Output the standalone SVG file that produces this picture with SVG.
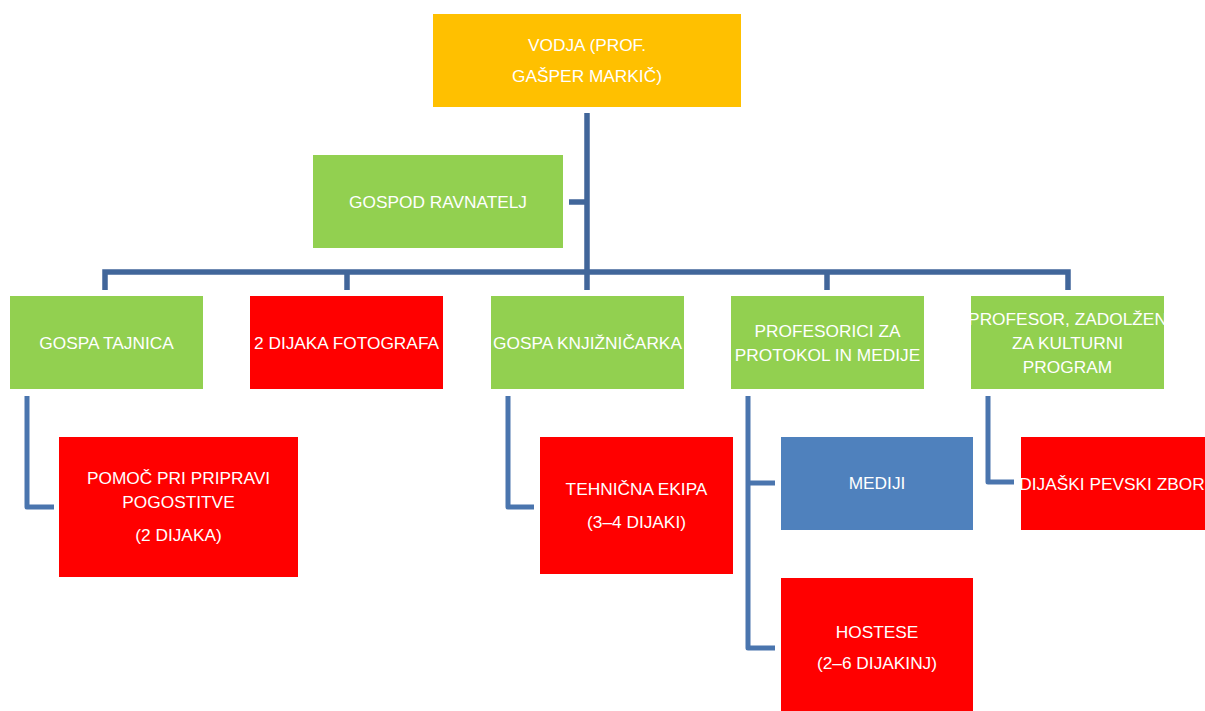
<svg xmlns="http://www.w3.org/2000/svg" width="1205" height="711" viewBox="0 0 1205 711">
<style>
.t{font-family:"Liberation Sans",Arial,sans-serif;font-size:17.3px;fill:#ffffff;text-anchor:middle}
.o{fill:#FFC000}.g{fill:#92D050}.r{fill:#FF0000}.b{fill:#4F81BD}
.c1{fill:none;stroke:#41669A;stroke-width:5.5}
.c2{fill:none;stroke:#4A75AE;stroke-width:5;stroke-linejoin:round}
</style>
<rect width="1205" height="711" fill="#ffffff"/>
<g id="connectors">
<path class="c1" d="M587,113 V290 M569,202 H587 M105,290 V272 H1068 V290 M347,272 V290 M827,272 V290"/>
<path class="c2" d="M27,396 V507 H54"/>
<path class="c2" d="M508,396 V507 H534"/>
<path class="c2" d="M748,396 V648 H775 M748,483 H775"/>
<path class="c2" d="M988,396 V482 H1014"/>
</g>
<g id="vodja"><rect class="o" x="433" y="14" width="308" height="93"/>
<text class="t" x="587" y="51">VODJA (PROF.</text><text class="t" x="587" y="82">GAŠPER MARKIČ)</text></g>
<g id="ravnatelj"><rect class="g" x="313" y="155" width="250" height="93"/>
<text class="t" x="438" y="208">GOSPOD RAVNATELJ</text></g>
<g id="tajnica"><rect class="g" x="10" y="296" width="193" height="93"/>
<text class="t" x="106.5" y="349">GOSPA TAJNICA</text></g>
<g id="fotografa"><rect class="r" x="250" y="296" width="193" height="93"/>
<text class="t" x="346.5" y="349">2 DIJAKA FOTOGRAFA</text></g>
<g id="knjiznicarka"><rect class="g" x="491" y="296" width="193" height="93"/>
<text class="t" x="587.5" y="349">GOSPA KNJIŽNIČARKA</text></g>
<g id="protokol"><rect class="g" x="731" y="296" width="193" height="93"/>
<text class="t" x="827.5" y="337">PROFESORICI ZA</text><text class="t" x="827.5" y="361">PROTOKOL IN MEDIJE</text></g>
<g id="kulturni"><rect class="g" x="971" y="296" width="193" height="93"/>
<text class="t" x="1067.5" y="325">PROFESOR, ZADOLŽEN</text><text class="t" x="1067.5" y="349">ZA KULTURNI</text><text class="t" x="1067.5" y="373">PROGRAM</text></g>
<g id="pomoc"><rect class="r" x="59" y="437" width="239" height="140"/>
<text class="t" x="178.5" y="484">POMOČ PRI PRIPRAVI</text><text class="t" x="178.5" y="508">POGOSTITVE</text><text class="t" x="178.5" y="541">(2 DIJAKA)</text></g>
<g id="tehnicna"><rect class="r" x="540" y="437" width="193" height="137"/>
<text class="t" x="636.5" y="495">TEHNIČNA EKIPA</text><text class="t" x="636.5" y="528">(3–4 DIJAKI)</text></g>
<g id="mediji"><rect class="b" x="781" y="437" width="192" height="93"/>
<text class="t" x="877" y="489">MEDIJI</text></g>
<g id="hostese"><rect class="r" x="781" y="578" width="192" height="133"/>
<text class="t" x="877" y="638">HOSTESE</text><text class="t" x="877" y="669">(2–6 DIJAKINJ)</text></g>
<g id="zbor"><rect class="r" x="1021" y="437" width="193" height="93"/>
<text class="t" x="1112" y="490">DIJAŠKI PEVSKI ZBOR</text></g>
</svg>
